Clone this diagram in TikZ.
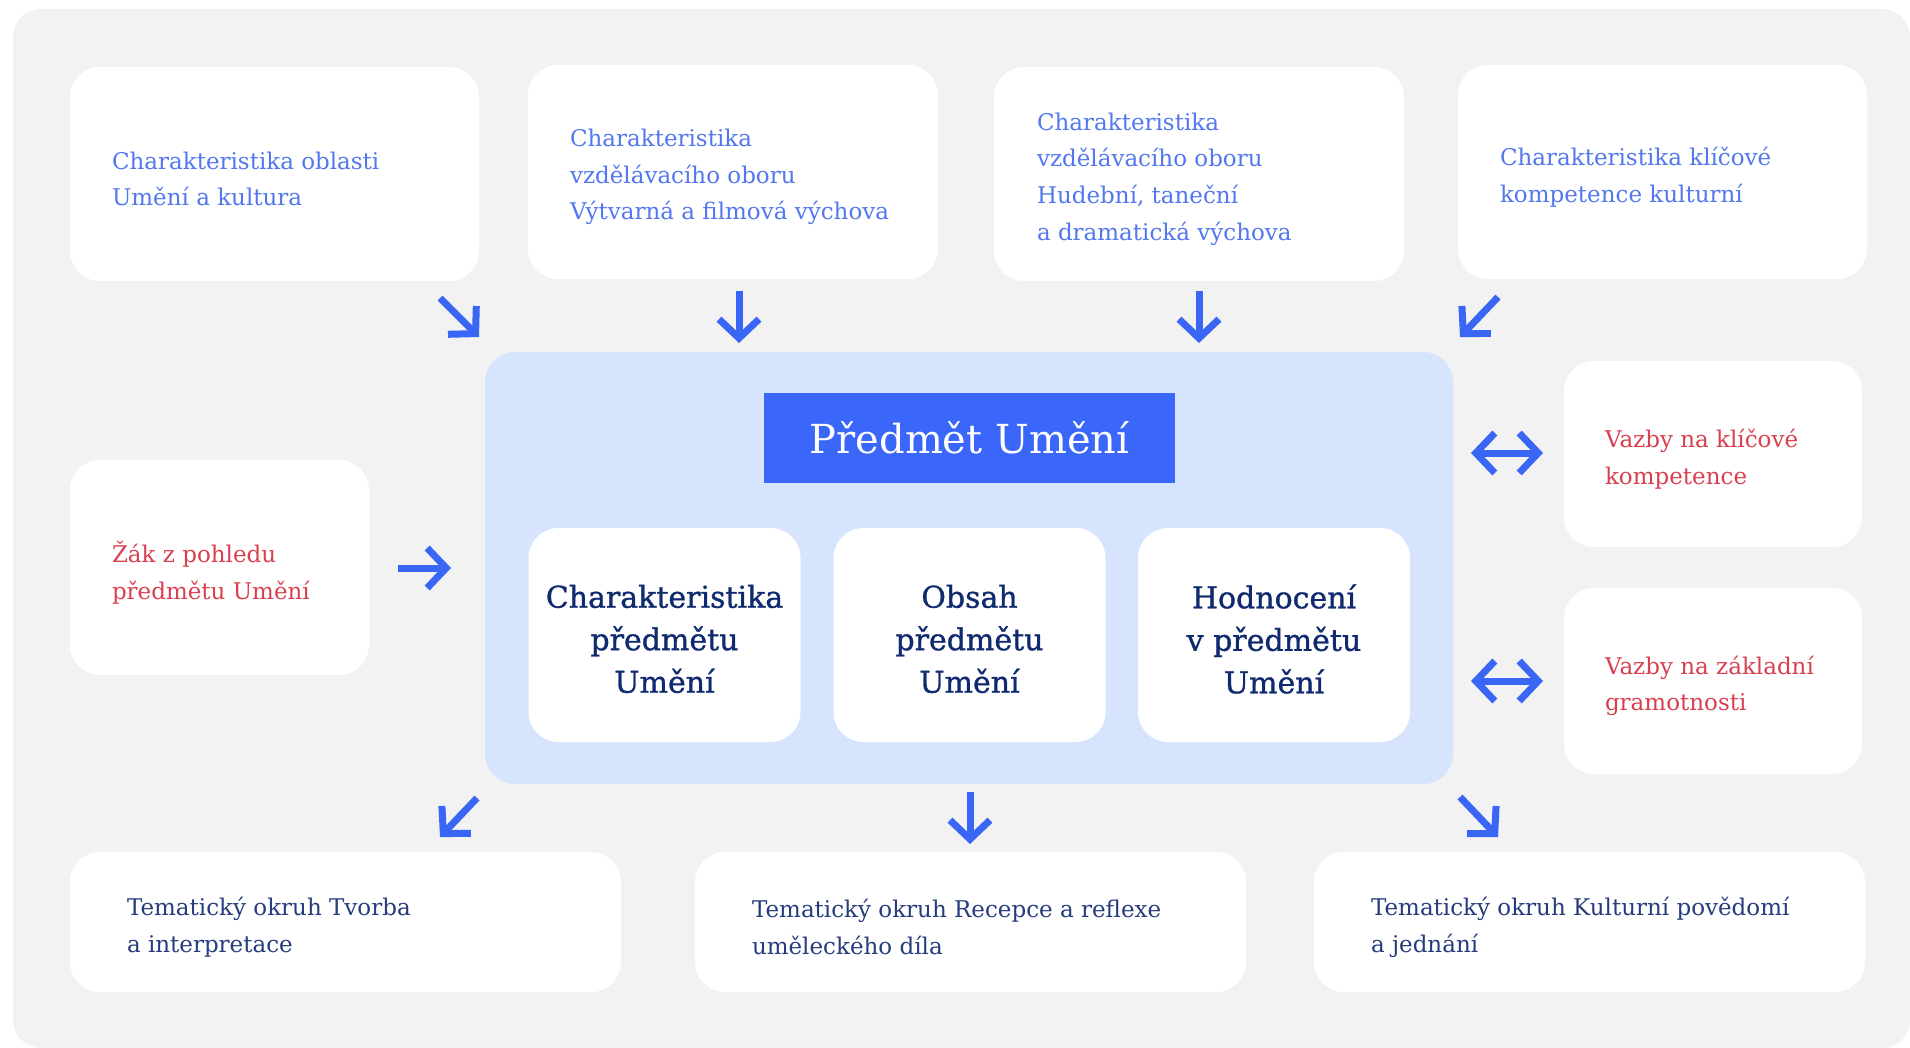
\documentclass[tikz,border=0pt]{standalone}
\usepackage{fontspec}
\setmainfont{DejaVu Serif}
\newfontfamily\medfont[FakeBold=1]{DejaVu Serif}
\usetikzlibrary{arrows.meta}
\definecolor{bgc}{HTML}{F2F2F2}
\definecolor{panelc}{HTML}{D6E4FD}
\definecolor{titlec}{HTML}{3A66FA}
\definecolor{arrowc}{HTML}{3A66F5}
\definecolor{txtblue}{HTML}{5277EE}
\definecolor{txtred}{HTML}{D9404F}
\definecolor{txtnavy}{HTML}{0F2A6E}
\definecolor{txtdark}{HTML}{263C7C}
\begin{document}
\begin{tikzpicture}[x=1pt,y=-1pt,
  card/.style={draw=none, fill=white, rounded corners=30pt, inner sep=0pt, anchor=center},
  topcard/.style={card, minimum width=409pt, minimum height=214pt},
  sidecard/.style={card, minimum width=298pt, minimum height=186pt},
  botcard/.style={card, minimum width=551pt, minimum height=140pt},
  innercard/.style={card, minimum width=272pt, minimum height=214pt},
  innertxt/.style={align=center, inner sep=0pt, text=txtnavy,
     font=\medfont\fontsize{30}{42.5}\selectfont},
  lbl/.style={anchor=west, align=left, inner sep=0pt, yshift=-5pt, font=\fontsize{23}{36.7}\selectfont},
  bluelbl/.style={lbl, text=txtblue},
  redlbl/.style={lbl, text=txtred},
  darklbl/.style={lbl, text=txtdark},
  tip/.tip={Straight Barb[length=19pt, width=40pt, sharp]},
  arr/.style={draw=arrowc, line width=7pt, -tip},
  darr/.style={draw=arrowc, line width=7pt, tip-tip}
]
\useasboundingbox (0,0) rectangle (1910,1048);
\fill[bgc, rounded corners=28pt] (13,9) rectangle (1910,1048);

% top row
\node[topcard] (c1) at (274.5,174) {};
\node[bluelbl] (t1) at ([xshift=42pt]c1.west) {Charakteristika oblasti\\Umění a kultura};
\node[topcard, minimum width=410pt] (c2) at (733,172) {};
\node[bluelbl] (t2) at ([xshift=42pt]c2.west) {Charakteristika\\vzdělávacího oboru\\Výtvarná a filmová výchova};
\node[topcard, minimum width=410pt] (c3) at (1199,174) {};
\node[bluelbl] (t3) at ([xshift=43pt]c3.west) {Charakteristika\\vzdělávacího oboru\\Hudební, taneční\\a dramatická výchova};
\node[topcard] (c4) at (1662.5,172) {};
\node[bluelbl] (t4) at ([xshift=42pt]c4.west) {Charakteristika klíčové\\kompetence kulturní};

% left
\node[card, minimum width=299pt, minimum height=215pt] (c5) at (219.5,567.5) {};
\node[redlbl] (t5) at ([xshift=42pt]c5.west) {Žák z pohledu\\předmětu Umění};

% centre panel
\node[card, fill=panelc, minimum width=968pt, minimum height=432pt] (panel) at (969,568) {};
\node[fill=titlec, text=white, minimum width=411pt, minimum height=90pt, inner sep=0pt,
      font=\fontsize{40}{48}\selectfont] (title) at (969.5,438) {\raisebox{-2.5pt}{Předmět Umění}};
\node[innercard] (i1) at (664.5,635) {};
\node[innertxt] (it1) at ([yshift=-4pt]i1.center) {Charakteristika\\předmětu\\Umění};
\node[innercard] (i2) at (969.5,635) {};
\node[innertxt] (it2) at ([yshift=-4pt]i2.center) {Obsah\\předmětu\\Umění};
\node[innercard] (i3) at (1274,635) {};
\node[innertxt] (it3) at ([yshift=-4pt]i3.center) {Hodnocení\\v předmětu\\Umění};

% right
\node[sidecard] (c6) at (1713,454) {};
\node[redlbl] (t6) at ([xshift=41pt]c6.west) {Vazby na klíčové\\kompetence};
\node[sidecard] (c7) at (1713,681) {};
\node[redlbl] (t7) at ([xshift=41pt]c7.west) {Vazby na základní\\gramotnosti};

% bottom
\node[botcard] (b1) at (345.5,922) {};
\node[darklbl] (tb1) at ([xshift=57pt]b1.west) {Tematický okruh Tvorba\\a interpretace};
\node[botcard] (b2) at (970.5,922) {};
\node[darklbl] (tb2) at ([xshift=57pt]b2.west) {Tematický okruh Recepce a reflexe\\uměleckého díla};
\node[botcard] (b3) at (1589.5,922) {};
\node[darklbl] (tb3) at ([xshift=57pt]b3.west) {Tematický okruh Kulturní povědomí\\a jednání};

% arrow end points
\coordinate (a1s) at (440,298);  \coordinate (a1e) at (479,337);
\coordinate (a2s) at (739,291);  \coordinate (a2e) at (739,343);
\coordinate (a3s) at (1199,291); \coordinate (a3e) at (1199,343);
\coordinate (a4s) at (1498,297); \coordinate (a4e) at (1460,337);
\coordinate (a5s) at (398,568);  \coordinate (a5e) at (451,568);
\coordinate (a6s) at (1471,453); \coordinate (a6e) at (1543,453);
\coordinate (a7s) at (1471,681); \coordinate (a7e) at (1543,681);
\coordinate (a8s) at (477,798);  \coordinate (a8e) at (440,837);
\coordinate (a9s) at (970,792);  \coordinate (a9e) at (970,844);
\coordinate (a10s) at (1460,797); \coordinate (a10e) at (1498,837);

\draw[arr] (a1s) -- (a1e);
\draw[arr] (a2s) -- (a2e);
\draw[arr] (a3s) -- (a3e);
\draw[arr] (a4s) -- (a4e);
\draw[arr] (a5s) -- (a5e);
\draw[darr] (a6s) -- (a6e);
\draw[darr] (a7s) -- (a7e);
\draw[arr] (a8s) -- (a8e);
\draw[arr] (a9s) -- (a9e);
\draw[arr] (a10s) -- (a10e);
\end{tikzpicture}
\end{document}
